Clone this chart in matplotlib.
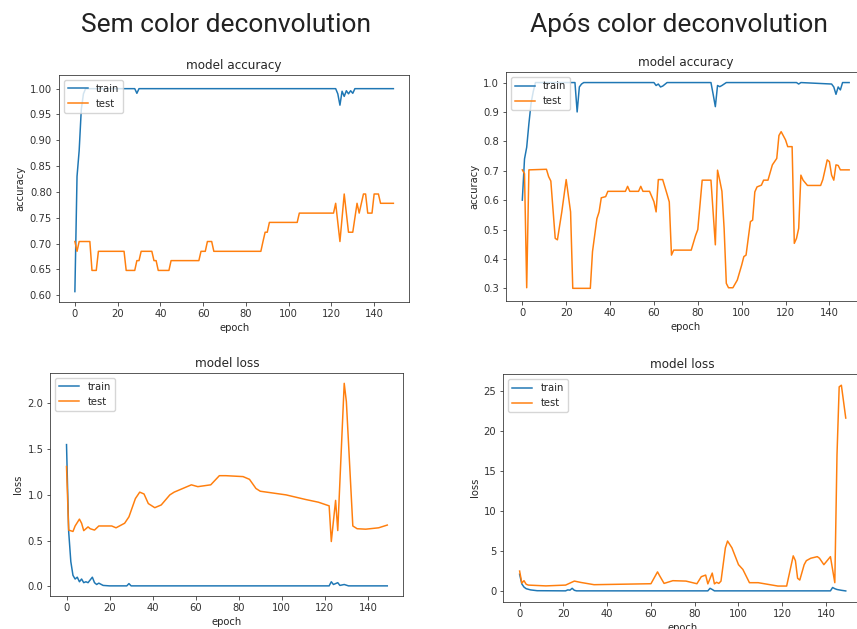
import matplotlib
matplotlib.use("Agg")
import matplotlib.pyplot as plt

# ---------------- data ----------------
# Top-left: model accuracy (sem color deconvolution)
tl_train_ep = [0, 1, 2, 3, 4, 5, 28, 29, 30, 122, 123, 124, 125, 126, 127, 128, 129, 130, 131, 149]
tl_train_val = [0.607, 0.83, 0.88, 0.96, 0.99, 1.0, 1.0, 0.991, 1.0, 1.0, 0.99, 0.968, 0.995, 0.985,
                0.996, 0.99, 0.996, 0.991, 1.0, 1.0]
tl_test_ep = [0, 1, 2, 7, 8, 10, 11, 23, 24, 28,
              29, 30, 31, 36, 37, 38, 39, 44, 45, 58,
              59, 61, 62, 64, 65, 87, 88, 89, 90, 91,
              104, 105, 121, 122, 124, 126, 128, 130, 132, 133,
              135, 136, 137, 139, 140, 142, 143, 149]
tl_test_val = [0.704, 0.685, 0.704, 0.704, 0.648, 0.648, 0.685, 0.685, 0.648, 0.648,
               0.667, 0.667, 0.685, 0.685, 0.667, 0.667, 0.648, 0.648, 0.667, 0.667,
               0.685, 0.685, 0.704, 0.704, 0.685, 0.685, 0.704, 0.722, 0.722, 0.741,
               0.741, 0.759, 0.759, 0.778, 0.704, 0.796, 0.722, 0.722, 0.778, 0.759,
               0.796, 0.796, 0.759, 0.759, 0.796, 0.796, 0.778, 0.778]

# Top-right: model accuracy (após color deconvolution)
tr_train_ep = [0, 1, 2, 3, 4, 5, 6, 24, 25, 26,
               27, 28, 60, 61, 62, 63, 64, 66, 86, 87,
               88, 89, 90, 91, 93, 125, 126, 127, 141, 142,
               143, 144, 145, 146, 147, 149]
tr_train_val = [0.60, 0.74, 0.78, 0.86, 0.93, 0.97, 1.0, 1.0, 0.90, 0.985,
                0.995, 1.0, 1.0, 0.99, 0.995, 0.985, 0.988, 1.0, 1.0, 0.96,
                0.918, 0.99, 0.986, 0.99, 1.0, 1.0, 0.995, 1.0, 0.995, 0.985,
                0.96, 0.985, 0.975, 1.0, 1.0, 1.0]
tr_test_ep = [0, 1, 2, 3, 11, 12, 13, 15, 16, 18,
              20, 22, 23, 31, 32, 34, 35, 36, 38, 39,
              47, 48, 49, 53, 54, 55, 58, 60, 61, 62,
              64, 66, 67, 68, 69, 77, 79, 80, 81, 82,
              86, 88, 89, 90, 91, 92, 93, 94, 96, 98,
              100, 101, 102, 104, 105, 106, 107, 109, 110, 112,
              114, 116, 117, 118, 120, 121, 123, 124, 125, 126,
              127, 128, 130, 136, 137, 138, 139, 140, 141, 142,
              143, 144, 145, 149]
tr_test_val = [0.703, 0.69, 0.302, 0.703, 0.705, 0.68, 0.665, 0.47, 0.465, 0.56,
               0.67, 0.56, 0.30, 0.30, 0.425, 0.537, 0.56, 0.608, 0.612, 0.63,
               0.63, 0.647, 0.63, 0.63, 0.647, 0.63, 0.63, 0.595, 0.56, 0.67,
               0.67, 0.62, 0.594, 0.413, 0.43, 0.43, 0.48, 0.50, 0.584, 0.668,
               0.668, 0.448, 0.702, 0.668, 0.63, 0.504, 0.317, 0.302, 0.302, 0.328,
               0.379, 0.408, 0.413, 0.527, 0.532, 0.628, 0.645, 0.651, 0.668, 0.668,
               0.72, 0.742, 0.82, 0.833, 0.805, 0.782, 0.782, 0.453, 0.47, 0.504,
               0.685, 0.668, 0.65, 0.65, 0.67, 0.703, 0.737, 0.731, 0.685, 0.668,
               0.72, 0.718, 0.703, 0.703]

# Bottom-left: model loss (sem color deconvolution)
bl_train_ep = [0, 1, 2, 3, 4, 5, 6, 7, 8, 9,
               10, 12, 13, 14, 15, 17, 20, 28, 29, 30,
               122, 123, 124, 126, 127, 129, 131, 149]
bl_train_val = [1.55, 0.60, 0.27, 0.12, 0.08, 0.10, 0.05, 0.08, 0.04, 0.05,
                0.04, 0.10, 0.04, 0.02, 0.035, 0.01, 0.005, 0.005, 0.03, 0.005,
                0.005, 0.05, 0.02, 0.04, 0.01, 0.02, 0.005, 0.005]
bl_test_ep = [0, 1, 3, 4, 6, 7, 8, 10, 11, 13,
              15, 21, 23, 27, 29, 32, 34, 36, 38, 41,
              44, 48, 50, 54, 58, 61, 67, 69, 71, 74,
              82, 85, 88, 90, 96, 102, 111, 117, 122, 123,
              125, 126, 129, 130, 133, 135, 139, 145, 149]
bl_test_val = [1.31, 0.615, 0.60, 0.66, 0.735, 0.69, 0.609, 0.65, 0.63, 0.615,
               0.66, 0.66, 0.64, 0.69, 0.76, 0.96, 1.03, 1.01, 0.905, 0.86,
               0.89, 1.0, 1.03, 1.07, 1.11, 1.09, 1.11, 1.16, 1.21, 1.21,
               1.20, 1.17, 1.07, 1.04, 1.02, 1.0, 0.95, 0.92, 0.88, 0.49,
               0.94, 0.61, 2.22, 2.02, 0.66, 0.63, 0.625, 0.64, 0.67]

# Bottom-right: model loss (após color deconvolution)
br_train_ep = [0, 1, 2, 3, 5, 8, 21, 22, 23, 24,
               25, 26, 86, 87, 88, 89, 142, 143, 144, 145,
               147, 149]
br_train_val = [2.1, 0.9, 0.5, 0.3, 0.15, 0.05, 0.03, 0.15, 0.12, 0.35,
                0.1, 0.03, 0.03, 0.35, 0.2, 0.03, 0.03, 0.45, 0.3, 0.2,
                0.1, 0.02]
br_test_ep = [0, 1, 2, 3, 4, 12, 21, 25, 28, 34,
              60, 63, 64, 66, 70, 76, 81, 83, 85, 86,
              88, 89, 90, 91, 92, 94, 95, 97, 100, 102,
              105, 109, 118, 122, 125, 126, 127, 128, 130, 131,
              133, 136, 137, 139, 142, 144, 145, 146, 147, 149]
br_test_val = [2.5, 1.0, 1.3, 0.85, 0.75, 0.65, 0.75, 1.25, 1.08, 0.8,
               0.92, 2.4, 1.9, 0.96, 1.3, 1.25, 0.92, 1.8, 2.0, 0.9,
               2.25, 0.9, 1.1, 0.96, 1.25, 5.4, 6.25, 5.4, 3.3, 2.7,
               1.05, 1.05, 0.63, 0.63, 4.4, 3.8, 1.6, 1.38, 3.3, 3.8,
               4.1, 4.3, 4.1, 3.3, 4.3, 1.05, 17.0, 25.5, 25.7, 21.6]

col_titles = ["Sem color deconvolution", "Após color deconvolution"]
legend_labels = ["train", "test"]

# ---------------- style ----------------
s = 0.72
plt.rcParams.update({
    "font.family": ["DejaVu Sans"],
    "font.size": 10 * s,
    "axes.titlesize": 12 * s,
    "axes.labelsize": 10 * s,
    "xtick.labelsize": 10 * s,
    "ytick.labelsize": 10 * s,
    "legend.fontsize": 10 * s,
    "lines.linewidth": 1.5 * s,
    "axes.linewidth": 0.8 * s,
    "xtick.major.size": 3.5 * s,
    "ytick.major.size": 3.5 * s,
    "xtick.major.width": 0.8 * s,
    "ytick.major.width": 0.8 * s,
    "xtick.major.pad": 3.5 * s,
    "ytick.major.pad": 3.5 * s,
    "axes.titlepad": 6 * s,
    "axes.labelpad": 4 * s,
    "axes.edgecolor": "#333333",
    "text.color": "#262626",
    "axes.labelcolor": "#262626",
    "xtick.color": "#333333",
    "ytick.color": "#333333",
    "legend.edgecolor": "#cccccc",
})

fig = plt.figure(figsize=(8.57, 6.29), dpi=100)

panels = [
    ([0.0688, 0.5204, 0.4088, 0.3604], tl_train_ep, tl_train_val, tl_test_ep, tl_test_val,
     "model accuracy", "accuracy", (0.5875, 1.0265)),
    ([0.5904, 0.5215, 0.4195, 0.3636], tr_train_ep, tr_train_val, tr_test_ep, tr_test_val,
     "model accuracy", "accuracy", (0.257, 1.035)),
    ([0.0589, 0.0517, 0.4117, 0.3556], bl_train_ep, bl_train_val, bl_test_ep, bl_test_val,
     "model loss", "loss", (-0.111, 2.335)),
    ([0.5873, 0.0437, 0.4186, 0.3617], br_train_ep, br_train_val, br_test_ep, br_test_val,
     "model loss", "loss", (-1.3, 27.1)),
]

for rect, xe, ye, xt, yt, title, ylab, ylim in panels:
    ax = fig.add_axes(rect)
    ax.plot(xe, ye, color="#1f77b4", label=legend_labels[0])
    ax.plot(xt, yt, color="#ff7f0e", label=legend_labels[1])
    ax.set_xlim(-7.45, 156.45)
    ax.set_ylim(*ylim)
    ax.set_xticks(range(0, 141, 20))
    ax.set_title(title)
    ax.set_xlabel("epoch")
    ax.set_ylabel(ylab)
    ax.legend(loc="upper left")

fig.text(0.264, 0.960, col_titles[0], ha="center", va="center",
         fontsize=19, family=["Roboto", "DejaVu Sans"], color="#222222")
fig.text(0.792, 0.960, col_titles[1], ha="center", va="center",
         fontsize=19, family=["Roboto", "DejaVu Sans"], color="#222222")

fig.savefig("out.png", dpi=100)
